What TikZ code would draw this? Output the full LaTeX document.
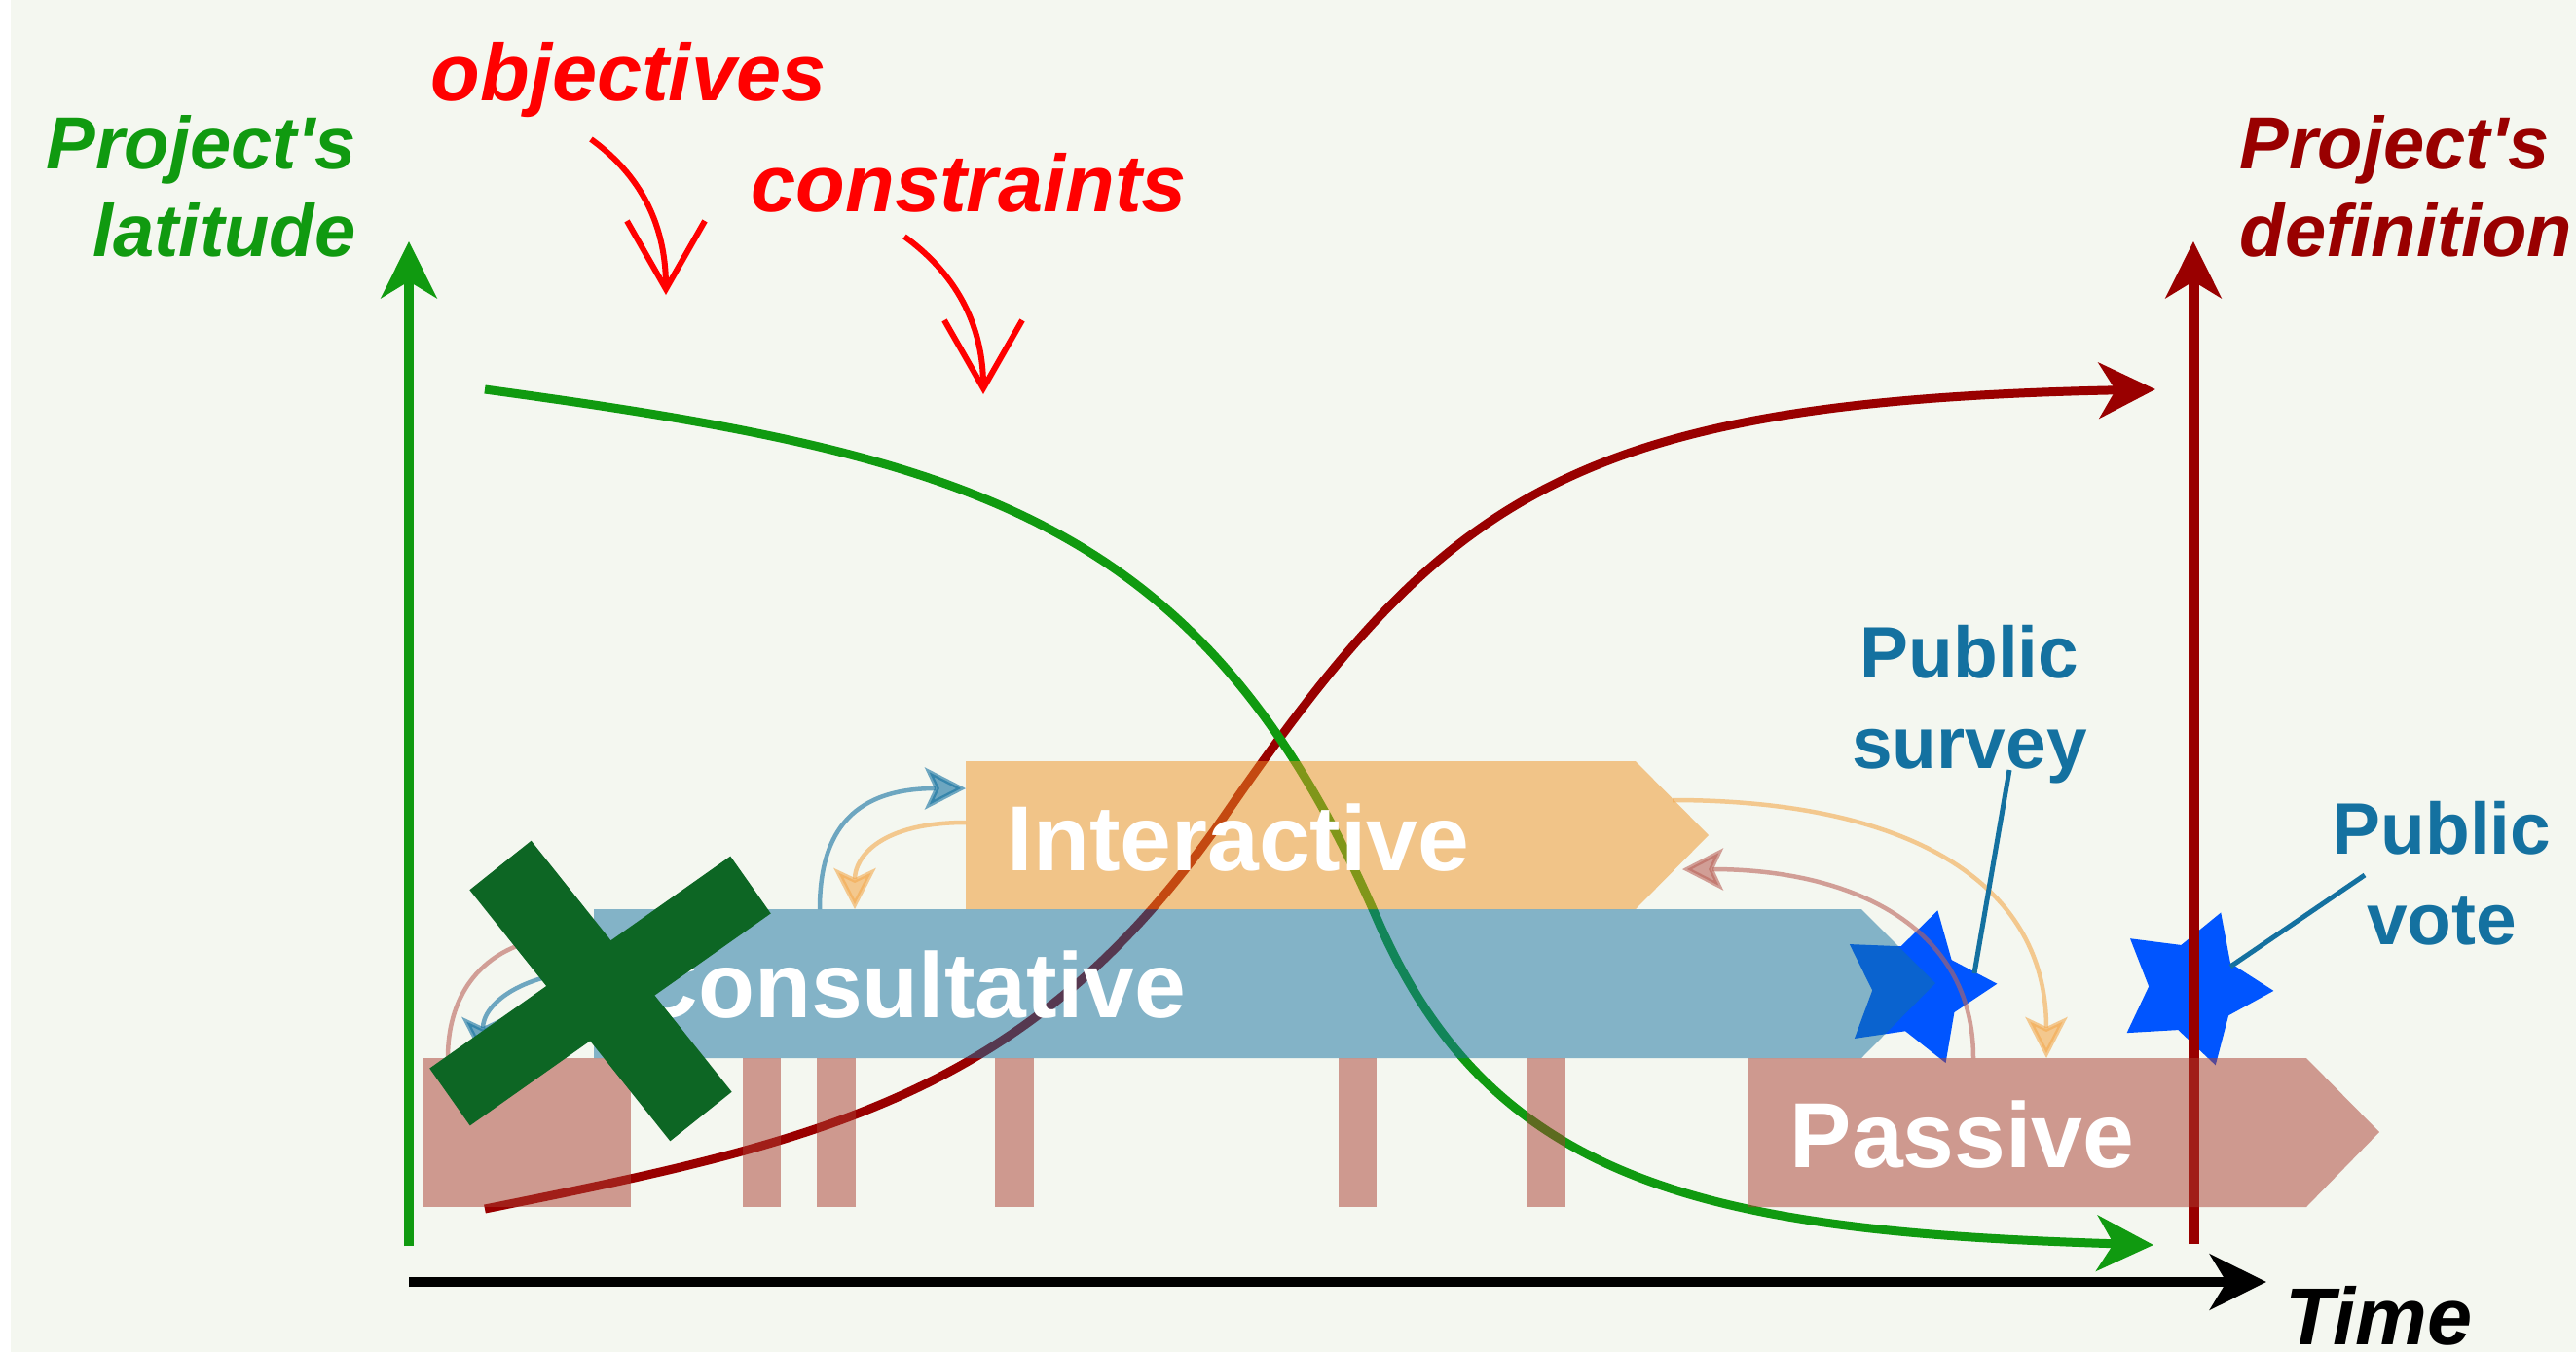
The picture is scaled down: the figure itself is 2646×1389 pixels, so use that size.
\documentclass[tikz,border=0pt]{standalone}
\usepackage{fontspec}
\setmainfont{Liberation Sans}
\usetikzlibrary{arrows.meta,shapes.geometric}

\definecolor{bg}{HTML}{F4F7F0}
\definecolor{latgreen}{HTML}{109A10}
\definecolor{defred}{HTML}{990000}
\definecolor{interorange}{HTML}{F09322}
\definecolor{consblue}{HTML}{1471A0}
\definecolor{passpink}{HTML}{AA3D30}
\definecolor{starblue}{HTML}{0055FF}
\definecolor{crossgreen}{HTML}{0D6624}

\begin{document}
\begin{tikzpicture}[x=0.1mm, y=-0.1mm,
  >={Stealth[length=5.8mm,width=5.7mm,inset=1.7mm]},
  axisline/.style={line width=1mm, ->},
  trend/.style={line width=.9mm, ->},
  phase/.style={fill opacity=.5},
  phasename/.style={text=white, font=\fontsize{27pt}{32pt}\selectfont\bfseries, inner sep=0pt},
  feedback/.style={line width=.45mm, opacity=.6, -{Stealth[length=4.2mm,width=4.3mm,inset=1mm]}},
  remark/.style={text=red, font=\fontsize{23.6pt}{28pt}\selectfont\bfseries\itshape, inner sep=0pt},
  hint/.style={red, line width=.6mm, -{Straight Barb[length=7mm,width=8mm]}},
  axisname/.style={font=\fontsize{21.6pt}{25.6pt}\selectfont\bfseries\itshape, inner sep=0pt},
  event/.style={star, star points=5, star point ratio=1.8, minimum size=16.5mm, inner sep=0pt, fill=starblue},
  eventname/.style={text=consblue, align=center, font=\fontsize{21.3pt}{26.2pt}\selectfont\bfseries, inner sep=0pt},
]

\fill[white] (0,0) rectangle (2646,1389);
\fill[bg] (11,0) rectangle (2646,1389);
\useasboundingbox (0,0) rectangle (2646,1389);

% the two public events
\node[event, shape border rotate=-87] (survey) at (1969,1015) {};
\node[event, shape border rotate=-92] (vote) at (2253,1015) {};

% axes
\coordinate (origin) at (420,1317);
\coordinate (lat top) at (420,248);
\coordinate (def foot) at (2253,1278);
\coordinate (def top) at (2253,248);
\draw[axisline, latgreen] (420,1280) -- (lat top);
\draw[axisline, defred, line width=1.1mm] (def foot) -- (def top);
\draw[axisline, black] (origin) -- (2328,1317);

% latitude goes down, definition goes up
\draw[trend, defred] (498,1242) .. controls (848,1172) and (1060,1125) .. (1260,835)
  .. controls (1485,509) and (1614,412) .. (2214,400);
\draw[trend, latgreen] (498,400) .. controls (998,468) and (1235,531) .. (1415,945)
  .. controls (1535,1221) and (1762,1265) .. (2212,1279);

% levels of participation
\foreach \l/\r in {435/648,763/802,839/879,1022/1062,1375/1414,1569/1608}
  \fill[phase, passpink] (\l,1087) rectangle (\r,1240);
\fill[phase, passpink] (1795,1087) -- (2369,1087) -- (2444,1163) -- (2369,1240) -- (1795,1240) -- cycle;
\fill[phase, consblue] (610,934) -- (1912,934) -- (1988,1010) -- (1912,1087) -- (610,1087) -- cycle;
\fill[phase, interorange] (992,782) -- (1680,782) -- (1755,858) -- (1680,934) -- (992,934) -- cycle;

\node[phasename, anchor=base west] (interactive) at (1034,894) {Interactive};
\node[phasename, anchor=base west] (consultative) at (648,1045) {Consultative};
\node[phasename, anchor=base west] (passive) at (1838,1199) {Passive};

% hand-overs between the levels
\coordinate (cons top) at (842,934);
\coordinate (inter in) at (992,810);
\coordinate (inter out) at (992,845);
\coordinate (cons in) at (878,934);
\coordinate (bar top) at (460,1087);
\coordinate (cons left in) at (610,963);
\coordinate (cons left out) at (610,998);
\coordinate (bar in) at (496,1087);
\coordinate (inter tip out) at (1718,822);
\coordinate (pass in) at (2102,1087);
\coordinate (pass out) at (2027,1087);
\coordinate (inter tip in) at (1728,893);

\draw[feedback, consblue] (cons top) .. controls +(0,-84) and +(-112,0) .. (inter in);
\draw[feedback, interorange!80!white] (inter out) .. controls +(-87,0) and +(0,-54) .. (cons in);
\draw[feedback, passpink!80!white] (bar top) .. controls +(0,-87) and +(-90,0) .. (cons left in);
\draw[feedback, consblue] (cons left out) .. controls +(-70,0) and +(0,-57) .. (bar in);
\draw[feedback, interorange!80!white] (inter tip out) .. controls +(232,0) and +(0,-187) .. (pass in);
\draw[feedback, passpink!80!white] (pass out) .. controls +(0,-137) and +(172,0) .. (inter tip in);

% axis names
\node[axisname, text=latgreen, align=right, anchor=base east] (latitude) at (366,263) {Project\textquotesingle s\\latitude};
\node[axisname, text=defred, align=left, anchor=base west] (definition) at (2300,263) {Project\textquotesingle s\\definition};
\node[remark, text=black, anchor=base west] (time) at (2347,1381) {Time};

% what narrows the latitude
\node[remark, anchor=base west] (objectives) at (442,103) {objectives};
\node[remark, anchor=base west] (constraints) at (771,217) {constraints};
\coordinate (obj from) at (607,143);
\coordinate (obj to) at (684,303);
\coordinate (con from) at (929,243);
\coordinate (con to) at (1010,405);
\draw[hint] (obj from) .. controls +(58,42) and +(0,-63) .. (obj to);
\draw[hint] (con from) .. controls +(58,42) and +(0,-65) .. (con to);

% events
\node[eventname, anchor=base] (survey label) at (2023,789) {Public\\survey};
\node[eventname, anchor=base] (vote label) at (2508,970) {Public\\vote};
\coordinate (survey foot) at (2064,791);
\coordinate (survey tip) at (2028,1000);
\coordinate (vote foot) at (2429,899);
\coordinate (vote tip) at (2291,993);
\draw[consblue, line width=.5mm] (survey foot) -- (survey tip);
\draw[consblue, line width=.5mm] (vote foot) -- (vote tip);

% crossed out
\draw[crossgreen, line width=8.1mm] (514,889) -- (720,1147);
\draw[crossgreen, line width=7.2mm] (771,909) -- (462,1127);

\end{tikzpicture}
\end{document}
